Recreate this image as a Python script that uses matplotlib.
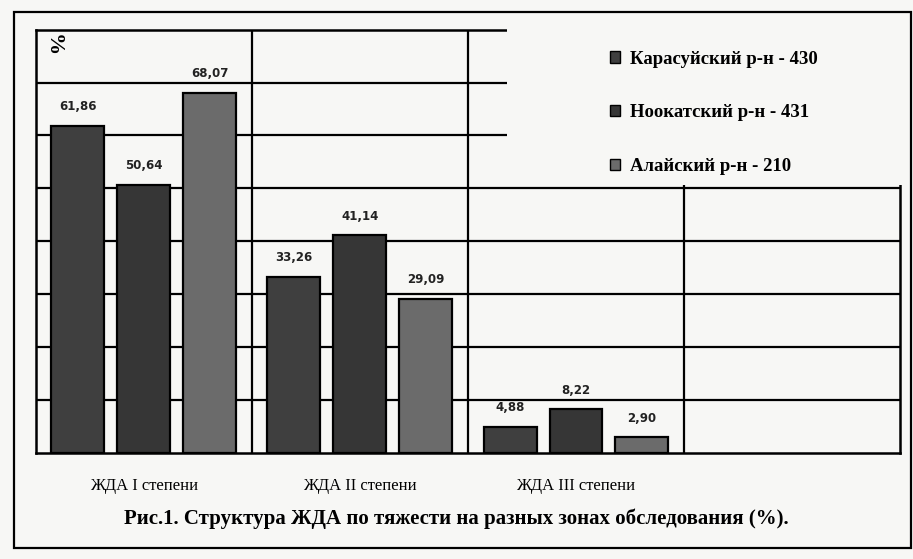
import matplotlib
matplotlib.use("Agg")
import matplotlib.pyplot as plt
from matplotlib.patches import Patch, Rectangle
import numpy as np

categories = ["ЖДА I степени", "ЖДА II степени", "ЖДА III степени"]
series_names = ["Карасуйский р-н - 430", "Ноокатский р-н - 431", "Алайский р-н - 210"]
karasuy = [61.86, 33.26, 4.88]
nookat = [50.64, 41.14, 8.22]
alay = [68.07, 29.09, 2.90]
colors = ["#3f3f3f", "#363636", "#6b6b6b"]
caption = "Рис.1. Структура ЖДА по тяжести на разных зонах обследования (%)."

BG = "#f7f7f5"
SERIF = "Liberation Serif"

fig = plt.figure(figsize=(9.13, 5.59), dpi=100, facecolor=BG)
ax = fig.add_axes([0.039, 0.19, 0.947, 0.757])
ax.set_facecolor(BG)

x = np.arange(len(categories))
width = 0.245
offsets = [-0.305, 0.0, 0.305]
for vals, off, col in zip([karasuy, nookat, alay], offsets, colors):
    bars = ax.bar(x + off, vals, width, color=col, edgecolor="black",
                  linewidth=1.6, zorder=3)
    for b, v in zip(bars, vals):
        ax.annotate(f"{v:.2f}".replace(".", ","),
                    (b.get_x() + b.get_width() / 2, v),
                    xytext=(0, 9), textcoords="offset points",
                    ha="center", va="bottom", fontsize=8.5, fontweight="bold",
                    color="#222222", family="DejaVu Sans")

ax.set_xlim(-0.5, 3.5)
ax.set_ylim(0, 80)
ax.set_yticks(np.arange(10, 80, 10))
ax.set_yticklabels([])
ax.set_xticks(x)
ax.set_xticklabels(categories, fontsize=12, family=SERIF)
ax.set_xticks([0.5, 1.5, 2.5], minor=True)
ax.tick_params(axis="both", which="both", length=0, pad=18)
ax.grid(True, axis="y", color="black", lw=1.6, zorder=1)
ax.grid(True, axis="x", which="minor", color="black", lw=1.6, zorder=1)
for s in ax.spines.values():
    s.set_linewidth(1.8)
    s.set_zorder(2)

ax.text(0.008, 0.99, "%", transform=ax.transAxes, rotation=-90,
        ha="left", va="top", fontsize=16, family=SERIF, fontweight="bold")

# white block behind the legend hides the grid there
ax.add_patch(Rectangle((0.545, 0.634), 0.5, 0.45, transform=ax.transAxes,
                       facecolor=BG, edgecolor="none", zorder=4, clip_on=False))

handles = [Patch(facecolor=c, edgecolor="black", lw=1.0) for c in colors]
leg = ax.legend(handles, series_names, loc="upper left",
                bbox_to_anchor=(0.645, 0.99), frameon=False,
                prop={"family": SERIF, "size": 13.5, "weight": "bold"},
                handlelength=0.55, handleheight=0.55, handletextpad=0.5,
                labelspacing=1.95)
leg.set_zorder(5)

# outer frame of the figure
fig.patches.append(Rectangle((0.015, 0.02), 0.983, 0.958, transform=fig.transFigure,
                             fill=False, edgecolor="black", lw=1.6))

fig.text(0.5, 0.072, caption, ha="center", va="center", fontsize=15,
         fontweight="bold", family=SERIF)

fig.savefig("out.png", dpi=100, facecolor=BG)
